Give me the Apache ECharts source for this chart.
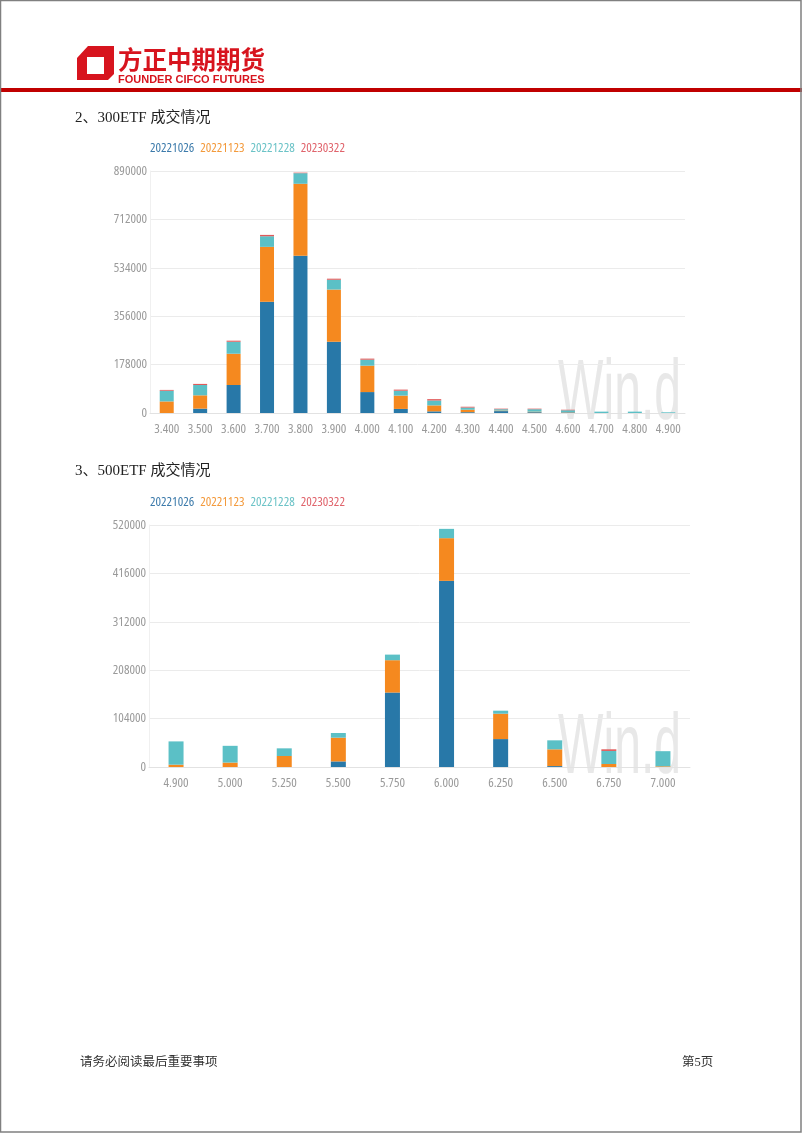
<!DOCTYPE html>
<html>
<head>
<meta charset="utf-8">
<script src="https://cdn.jsdelivr.net/npm/echarts@6/dist/echarts.min.js"></script>
<style>
html,body{margin:0;padding:0;background:#fff;}
#c{width:802px;height:1133px;}
</style>
</head>
<body>
<div id="c"></div>
<script>
// ---- data ----
var seriesNames = ['20221026', '20221123', '20221228', '20230322'];

var cats300 = ['3.400','3.500','3.600','3.700','3.800','3.900','4.000','4.100','4.200','4.300','4.400','4.500','4.600','4.700','4.800','4.900'];
var etf300_1026 = [0, 16000, 103000, 409000, 578000, 262000, 77000, 15000, 6000, 3000, 7000, 3000, 2000, 0, 0, 0];
var etf300_1123 = [42600, 49000, 115000, 202000, 265000, 192000, 97000, 49000, 22000, 9000, 2000, 2000, 1000, 0, 0, 0];
var etf300_1228 = [39300, 38000, 44000, 39000, 39000, 36000, 22000, 18000, 18000, 8000, 5000, 9000, 7000, 5000, 5000, 2500];
var etf300_0322 = [3000, 4000, 4000, 5000, 2000, 4000, 4000, 4000, 5000, 3000, 2000, 2000, 2000, 0, 0, 0];
var ticks300 = [0, 178000, 356000, 534000, 712000, 890000];

var cats500 = ['4.900','5.000','5.250','5.500','5.750','6.000','6.250','6.500','6.750','7.000'];
var etf500_1026 = [0, 0, 0, 12000, 160000, 400000, 60000, 2000, 0, 0];
var etf500_1123 = [5000, 9500, 23600, 51000, 69500, 91700, 54500, 36000, 6500, 1500];
var etf500_1228 = [50000, 36000, 16500, 10000, 12000, 20000, 6500, 19300, 28000, 32500];
var etf500_0322 = [0, 0, 0, 0, 0, 0, 0, 0, 3500, 0];
var ticks500 = [0, 104000, 208000, 312000, 416000, 520000];

// ---- style ----
var barColors = ['#2878a8', '#f5891f', '#5bc0c6', '#e05a5a'];
var legendColors = ['#3d7bab', '#f39a3c', '#6cc3c7', '#e0646c'];
var narrow = '"Open Sans", "Liberation Sans Narrow", sans-serif';
var stretch = 'condensed';
var cjk = '"Liberation Serif", "Noto Sans CJK SC", serif';

var chart = echarts.init(document.getElementById('c'), null, {renderer: 'canvas'});

function legendAt(top) {
  return {
    left: 140, top: top, icon: 'none', itemWidth: 0, itemHeight: 12, itemGap: 1,
    selectedMode: false,
    textStyle: {fontFamily: narrow, fontWeight: stretch, fontSize: 13},
    data: seriesNames.map(function (n, i) { return {name: n, textStyle: {color: legendColors[i], fontFamily: narrow, fontWeight: stretch, fontSize: 13}}; })
  };
}

function xAxisFor(grid, cats) {
  return {
    type: 'category', gridIndex: grid, data: cats,
    axisLine: {show: true, lineStyle: {color: '#e2e2e2'}},
    axisTick: {show: false},
    axisLabel: {interval: 0, color: '#9a9a9a', fontFamily: narrow, fontWeight: stretch, fontSize: 13, margin: 10}
  };
}
function yAxisFor(grid, ticks) {
  return {
    type: 'value', gridIndex: grid, min: ticks[0], max: ticks[ticks.length - 1],
    interval: ticks[1] - ticks[0],
    axisLine: {show: true, lineStyle: {color: '#f0f0f0'}},
    axisTick: {show: false},
    splitLine: {lineStyle: {color: '#ebebeb'}},
    axisLabel: {color: '#9a9a9a', fontFamily: narrow, fontWeight: stretch, fontSize: 13, margin: 3,
      formatter: function (v) { return String(v); }}
  };
}

var data300 = [etf300_1026, etf300_1123, etf300_1228, etf300_0322];
var data500 = [etf500_1026, etf500_1123, etf500_1228, etf500_0322];
var series = [];
seriesNames.forEach(function (n, i) {
  series.push({name: n, type: 'bar', stack: 'a', xAxisIndex: 0, yAxisIndex: 0, barWidth: 14,
    itemStyle: {color: barColors[i]}, data: data300[i]});
});
seriesNames.forEach(function (n, i) {
  series.push({name: n, type: 'bar', stack: 'b', xAxisIndex: 1, yAxisIndex: 1, barWidth: 15,
    itemStyle: {color: barColors[i]}, data: data500[i]});
});

var graphics = [
  // page border
  {type: 'rect', shape: {x: 0.5, y: 0.5, width: 800.5, height: 1131.5}, style: {fill: 'none', stroke: '#808080', lineWidth: 1.5}, z: 10},
  // logo icon
  {type: 'polygon', shape: {points: [[88,46],[114,46],[114,74],[108,80],[77,80],[77,58]]}, style: {fill: '#d7141e'}},
  {type: 'polygon', shape: {points: [[87,57],[104,57],[104,74],[87,74]]}, style: {fill: '#ffffff'}},
  {type: 'text', left: 118, top: 47, style: {text: '方正中期期货', fill: '#d7141e', font: 'bold 24.5px "Noto Sans CJK SC"'}},
  {type: 'text', left: 118, top: 74, style: {text: 'FOUNDER CIFCO FUTURES', fill: '#d7141e', font: 'bold 11px "Liberation Sans", sans-serif'}},
  // red rule
  {type: 'rect', shape: {x: 0, y: 88, width: 802, height: 4}, style: {fill: '#c00000'}},
  // section titles
  {type: 'text', left: 75, top: 111, style: {text: '2、300ETF 成交情况', fill: '#222', font: '15px ' + cjk}},
  {type: 'text', left: 75, top: 464, style: {text: '3、500ETF 成交情况', fill: '#222', font: '15px ' + cjk}},
  // footer
  {type: 'text', left: 80, top: 1056, style: {text: '请务必阅读最后重要事项', fill: '#333', font: '12.5px ' + cjk}},
  {type: 'text', left: 682, top: 1056, style: {text: '第5页', fill: '#333', font: '12.5px ' + cjk}},
  // watermarks
  {type: 'text', x: 558, y: 352, scaleX: 0.56, z: -1, style: {text: 'Win.d', fill: '#e8e8e8', font: '86px "Liberation Sans", sans-serif'}},
  {type: 'text', x: 558, y: 706, scaleX: 0.56, z: -1, style: {text: 'Win.d', fill: '#e8e8e8', font: '86px "Liberation Sans", sans-serif'}}
];

chart.setOption({
  animation: false,
  backgroundColor: '#fff',
  legend: [legendAt(137), legendAt(491)],
  grid: [
    {left: 150, top: 171, width: 535, height: 242},
    {left: 149, top: 525, width: 541, height: 242}
  ],
  xAxis: [xAxisFor(0, cats300), xAxisFor(1, cats500)],
  yAxis: [yAxisFor(0, ticks300), yAxisFor(1, ticks500)],
  graphic: graphics,
  series: series
});
</script>
</body>
</html>
